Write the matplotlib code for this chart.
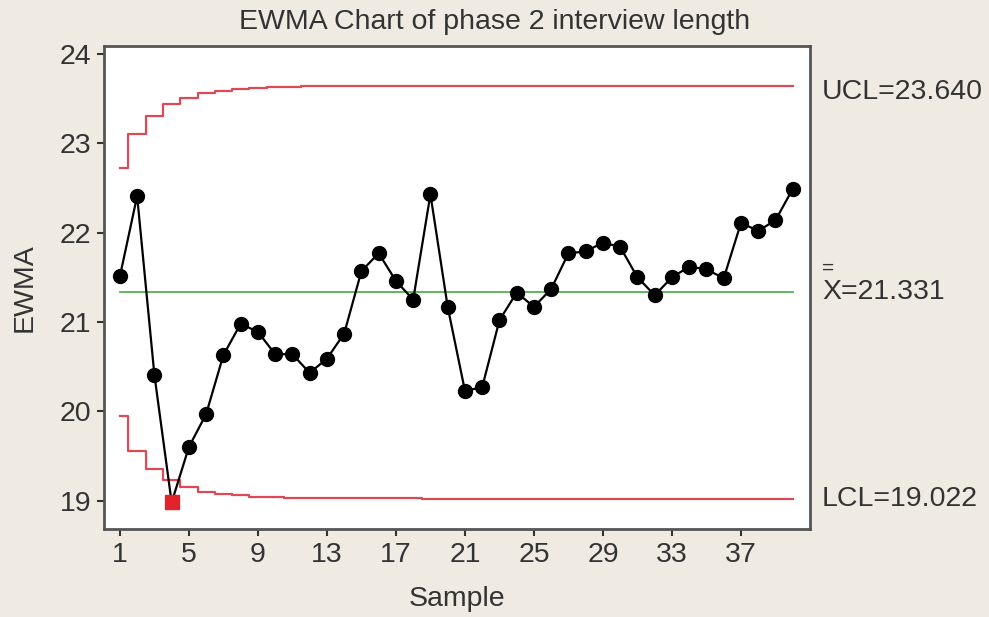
import numpy as np
import matplotlib
matplotlib.use('Agg')
import matplotlib.pyplot as plt


# values
samples = list(range(1, 41))
ewma = [21.51, 22.41, 20.41, 18.98, 19.60, 19.97, 20.63, 20.98, 20.89, 20.64,
        20.64, 20.43, 20.59, 20.87, 21.57, 21.77, 21.46, 21.25, 22.43, 21.17,
        20.23, 20.27, 21.02, 21.33, 21.17, 21.37, 21.77, 21.79, 21.89, 21.84,
        21.50, 21.30, 21.50, 21.62, 21.59, 21.49, 22.11, 22.02, 22.14, 22.49]
ucl = [22.72, 23.11, 23.31, 23.44, 23.51, 23.56, 23.59, 23.61, 23.62, 23.63,
       23.63, 23.64, 23.64, 23.64, 23.64, 23.64, 23.64, 23.64, 23.64, 23.64,
       23.64, 23.64, 23.64, 23.64, 23.64, 23.64, 23.64, 23.64, 23.64, 23.64,
       23.64, 23.64, 23.64, 23.64, 23.64, 23.64, 23.64, 23.64, 23.64, 23.64]
lcl = [19.95, 19.56, 19.35, 19.23, 19.15, 19.10, 19.07, 19.06, 19.04, 19.04,
       19.03, 19.03, 19.03, 19.03, 19.03, 19.03, 19.03, 19.03, 19.02, 19.02,
       19.02, 19.02, 19.02, 19.02, 19.02, 19.02, 19.02, 19.02, 19.02, 19.02,
       19.02, 19.02, 19.02, 19.02, 19.02, 19.02, 19.02, 19.02, 19.02, 19.02]
center = 21.331
ucl_label = 'UCL=23.640'
lcl_label = 'LCL=19.022'
center_label = 'X=21.331'
xticks = [1, 5, 9, 13, 17, 21, 25, 29, 33, 37]
yticks = [19, 20, 21, 22, 23, 24]

plt.rcParams['font.family'] = ['Liberation Sans', 'DejaVu Sans']

BG = '#efebe3'
RED = '#dc4b55'
GREEN = '#55b04f'
TXT = '#333333'
FS = 20.5

fig = plt.figure(figsize=(9.89, 6.17), dpi=100, facecolor=BG)
ax = fig.add_axes([104 / 989, 1 - 529 / 617, 706 / 989, 483 / 617])
ax.set_facecolor('white')

x = np.array(samples)
y = np.array(ewma)
out = (y < np.array(lcl)) | (y > np.array(ucl))

# control limits as steps
ax.plot(x, ucl, drawstyle='steps-mid', color=RED, lw=1.6, zorder=2)
ax.plot(x, lcl, drawstyle='steps-mid', color=RED, lw=1.6, zorder=2)
ax.plot([x[0], x[-1]], [center, center], color=GREEN, lw=1.3, zorder=2)

ax.plot(x, y, color='black', lw=1.6, zorder=3)
ax.plot(x[~out], y[~out], 'o', color='black', ms=10, zorder=4)
ax.plot(x[out], y[out], 's', color='#e3232b', ms=9.5, zorder=4)

ax.set_xlim(0.08, 41)
ax.set_ylim(18.683, 24.09)
ax.set_xticks(xticks)
ax.set_yticks(yticks)
ax.tick_params(axis='both', direction='out', length=5, width=1.5,
               labelsize=FS, colors=TXT, pad=4)
for side in ['left', 'bottom', 'right', 'top']:
    ax.spines[side].set_color('#555555')
    ax.spines[side].set_linewidth(2)

ax.set_xlabel('Sample', fontsize=FS, color=TXT, labelpad=13)
ax.set_ylabel('EWMA', fontsize=FS, color=TXT, labelpad=16)
fig.text(0.5, 1 - 22 / 617, 'EWMA Chart of phase 2 interview length',
         ha='center', va='center', fontsize=FS, color=TXT)

# labels on the right side
tr = ax.get_yaxis_transform()
ax.text(1.017, ucl[-1] - 0.06, ucl_label, transform=tr, ha='left', va='center',
        fontsize=FS, color=TXT, clip_on=False)
ax.text(1.017, lcl[-1], lcl_label, transform=tr, ha='left', va='center',
        fontsize=FS, color=TXT, clip_on=False)
ax.text(1.017, center, center_label, transform=tr, ha='left', va='center',
        fontsize=FS, color=TXT, clip_on=False)
# double bar over the X
ax.text(1.0175, center + 0.27, '=', transform=tr, ha='left', va='center',
        fontsize=15, color=TXT, clip_on=False)

fig.savefig('out.png', dpi=100, facecolor=BG)
